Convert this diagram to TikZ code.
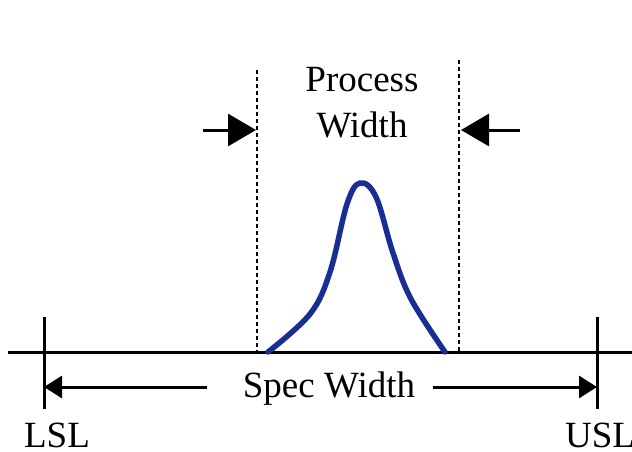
\documentclass[tikz,border=0pt]{standalone}
\usepackage{fontspec}
\setmainfont{Liberation Serif}
\usetikzlibrary{arrows.meta}
\definecolor{curveblue}{RGB}{24,46,146}
\begin{document}
\begin{tikzpicture}[x=1pt,y=-1pt,
  lbl/.style={font=\fontsize{37}{44}\selectfont, anchor=base, inner sep=0pt},
  axisline/.style={line width=3pt, black},
  limitline/.style={line width=3pt, black},
  dashline/.style={line width=2.6pt, black, dash pattern=on 4pt off 3pt},
  bigarrow/.style={line width=3pt, -{Triangle[length=28pt,width=32pt]}},
  specarrow/.style={line width=3pt, -{Triangle[length=18pt,width=22pt]}},
  curve/.style={line width=5.5pt, curveblue, line cap=round, line join=round}]
  \useasboundingbox (0,0) rectangle (632,452);

  % baseline and specification limits
  \coordinate (bl) at (8,352);
  \coordinate (br) at (632,352);
  \draw[axisline] (bl) -- (br);
  \coordinate (lslT) at (44,317);
  \coordinate (lslB) at (44,409);
  \coordinate (uslT) at (597,317);
  \coordinate (uslB) at (597,409);
  \draw[limitline] (lslT) -- (lslB);
  \draw[limitline] (uslT) -- (uslB);

  % spec width label and arrows
  \node[lbl] (spec) at (329,397) {Spec Width};
  \coordinate (specL) at (207,387);
  \coordinate (specR) at (433,387);
  \draw[specarrow] (specL) -- (lslT |- specL);
  \draw[specarrow] (specR) -- (uslT |- specR);

  \node[lbl] (lsl) at (57,447) {LSL};
  \node[lbl] (usl) at (600,447) {USL};

  % process width markers
  \coordinate (pwLT) at (257,70);
  \coordinate (pwLB) at (257,352);
  \coordinate (pwRT) at (459,60);
  \coordinate (pwRB) at (459,352);
  \draw[dashline] (pwLT) -- (pwLB);
  \draw[dashline] (pwRT) -- (pwRB);

  \node[lbl] (proc) at (362,92) {Process};
  \node[lbl] (wid) at (362,137) {Width};

  \coordinate (aL) at (203,130);
  \coordinate (aR) at (520,130);
  \draw[bigarrow] (aL) -- (256,130);
  \draw[bigarrow] (aR) -- (461,130);

  % process distribution
  \draw[curve] plot[smooth, tension=0.6] coordinates
    {(268,352) (310,314) (330,272) (347,204) (360,183) (376,197) (393,253) (411,299) (445,352)};
\end{tikzpicture}
\end{document}
